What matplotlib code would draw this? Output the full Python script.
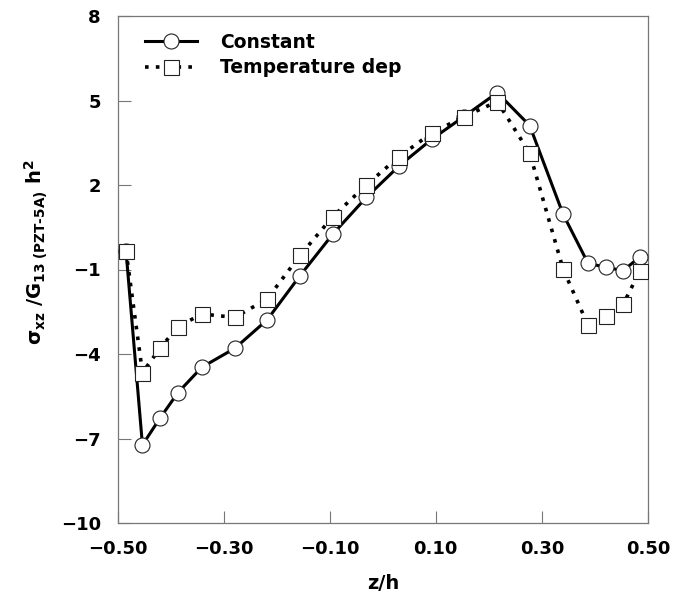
import matplotlib
matplotlib.use("Agg")
import matplotlib.pyplot as plt

# z/h positions (same grid for both curves)
z = [-0.484, -0.453, -0.420, -0.386, -0.341, -0.279, -0.218, -0.156, -0.094, -0.031,
     0.031, 0.092, 0.153, 0.216, 0.277, 0.340, 0.387, 0.420, 0.453, 0.485]

# normalised transverse shear stress
constant = [-0.33, -7.23, -6.28, -5.37, -4.47, -3.80, -2.79, -1.22, 0.26, 1.56,
            2.68, 3.62, 4.43, 5.28, 4.11, 0.96, -0.78, -0.92, -1.04, -0.55]
temp_dep = [-0.33, -4.66, -3.80, -3.03, -2.58, -2.70, -2.05, -0.50, 0.88, 2.00,
            3.01, 3.84, 4.43, 4.96, 3.13, -0.99, -2.98, -2.65, -2.24, -1.04]

xticks = [-0.50, -0.30, -0.10, 0.10, 0.30, 0.50]
yticks = [-10, -7, -4, -1, 2, 5, 8]

plt.rcParams["font.family"] = "DejaVu Sans"
plt.rcParams["font.weight"] = "bold"
plt.rcParams["mathtext.default"] = "bf"

fig = plt.figure(figsize=(6.78, 5.99), dpi=100)
ax = fig.add_axes([117.5 / 678, 76 / 599, 530.5 / 678, 507 / 599])

ax.plot(z, constant, color="black", lw=2.2, ls="-",
        marker="o", ms=10.8, mfc="white", mec="#222222", mew=0.8,
        label="Constant", zorder=3)
ax.plot(z, temp_dep, color="black", lw=2.6, ls=(0, (1, 2.0)),
        marker="s", ms=10.8, mfc="white", mec="#222222", mew=0.8,
        label="Temperature dep", zorder=4)

ax.set_xlim(-0.5, 0.5)
ax.set_ylim(-10, 8)
ax.set_xticks(xticks)
ax.set_xticklabels([f"{t:.2f}".replace("-", "\u2212") for t in xticks])
ax.set_yticks(yticks)
ax.set_yticklabels([str(t).replace("-", "\u2212") for t in yticks])

for s in ax.spines.values():
    s.set_color("#777777")
    s.set_linewidth(0.9)
ax.tick_params(direction="in", length=9, width=0.8, color="#777777",
               labelsize=13, top=False, right=False)
ax.tick_params(axis="x", pad=12)
ax.tick_params(axis="y", pad=12)

ax.set_xlabel("z/h", fontsize=14, fontweight="bold", labelpad=12)
ylab = r"$\sigma_{xz}\ /G_{13\ (PZT" + "\u2010" + r"5A)}\ h^2$"
fig.text(36 / 678, 1 - 252 / 599, ylab,
         rotation=90, ha="center", va="center", fontsize=14)

ax.legend(loc="upper left", frameon=False, fontsize=13.5, handlelength=2.8,
          handletextpad=1.2, borderaxespad=0.5, labelspacing=0.35,
          bbox_to_anchor=(0.02, 1.0))

fig.savefig("out.png", dpi=100)
